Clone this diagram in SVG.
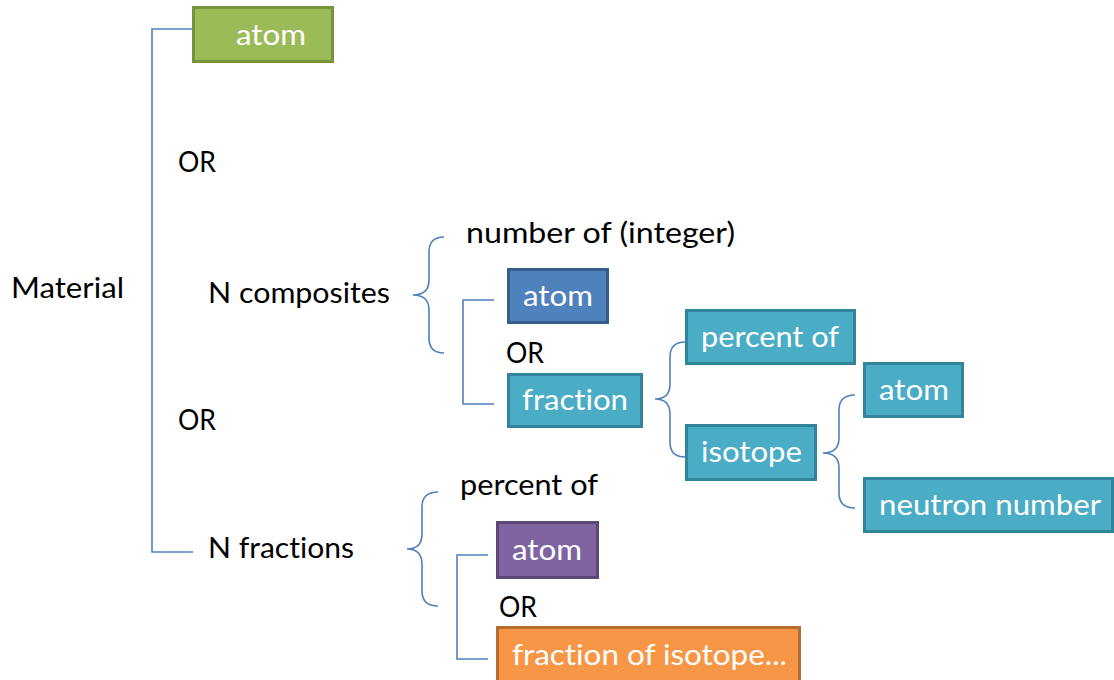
<svg xmlns="http://www.w3.org/2000/svg" width="1114" height="680" viewBox="0 0 1114 680">
<style>
text{font-family:Lato,"Open Sans","Liberation Sans",sans-serif;font-size:28px;font-variant-ligatures:none;font-feature-settings:"liga" 0,"dlig" 0}
.lbl{fill:#000}
.w{fill:#fff}
.c{fill:none;stroke:#4F81BD;stroke-width:1.6}
.box{stroke-width:3}
.green{fill:#9BBB59;stroke:#77933C}
.blue{fill:#4F81BD;stroke:#385D8A}
.cyan{fill:#4BACC6;stroke:#31849B}
.purple{fill:#8064A2;stroke:#5C4776}
.orange{fill:#F79646;stroke:#B66D31}
</style>
<rect width="1114" height="680" fill="#fff"/>
<g id="connectors">
<path class="c" d="M193,29 H152 V552 H193"/>
<path class="c" d="M444,237 Q429,237 429,252 L429,280 Q429,295 413,295 Q429,295 429,310 L429,338 Q429,353 444,353"/>
<path class="c" d="M494,300 H463 V404 H494"/>
<path class="c" d="M685,342 Q670,342 670,357 L670,384 Q670,399 655,399 Q670,399 670,414 L670,442 Q670,457 685,457"/>
<path class="c" d="M855,395 Q839,395 839,410 L839,438 Q839,453 823,453 Q839,453 839,468 L839,493 Q839,508 855,508"/>
<path class="c" d="M438,492 Q422,492 422,507 L422,534 Q422,549 407,549 Q422,549 422,564 L422,591 Q422,606 438,606"/>
<path class="c" d="M488,555 H457 V659 H488"/>
</g>
<g id="material"><text class="lbl" x="11" y="298" textLength="113" lengthAdjust="spacingAndGlyphs">Material</text></g>
<g id="or1"><text class="lbl" x="178" y="172" textLength="38" lengthAdjust="spacingAndGlyphs">OR</text></g>
<g id="or2"><text class="lbl" x="178" y="430" textLength="38" lengthAdjust="spacingAndGlyphs">OR</text></g>
<g id="ncomposites"><text class="lbl" x="208" y="303" textLength="182" lengthAdjust="spacingAndGlyphs">N composites</text></g>
<g id="nfractions"><text class="lbl" x="208" y="558" textLength="146" lengthAdjust="spacingAndGlyphs">N fractions</text></g>
<g id="numberof"><text class="lbl" x="466" y="243" textLength="269" lengthAdjust="spacingAndGlyphs">number of (integer)</text></g>
<g id="or3"><text class="lbl" x="506" y="363" textLength="38" lengthAdjust="spacingAndGlyphs">OR</text></g>
<g id="percentof2"><text class="lbl" x="460" y="495" textLength="138" lengthAdjust="spacingAndGlyphs">percent of</text></g>
<g id="or4"><text class="lbl" x="499" y="617" textLength="38" lengthAdjust="spacingAndGlyphs">OR</text></g>

<g id="atom-green"><rect class="box green" x="193.5" y="7.5" width="139" height="54"/><text class="w" x="236" y="45" textLength="70" lengthAdjust="spacingAndGlyphs">atom</text></g>
<g id="atom-blue"><rect class="box blue" x="508.5" y="269.5" width="99" height="53"/><text class="w" x="523" y="306" textLength="70" lengthAdjust="spacingAndGlyphs">atom</text></g>
<g id="fraction"><rect class="box cyan" x="508.5" y="374.5" width="133" height="52"/><text class="w" x="522" y="410" textLength="106" lengthAdjust="spacingAndGlyphs">fraction</text></g>
<g id="percentof"><rect class="box cyan" x="686.5" y="310.5" width="168" height="53"/><text class="w" x="701" y="347" textLength="138" lengthAdjust="spacingAndGlyphs">percent of</text></g>
<g id="isotope"><rect class="box cyan" x="686.5" y="425.5" width="129" height="54"/><text class="w" x="701" y="462" textLength="101" lengthAdjust="spacingAndGlyphs">isotope</text></g>
<g id="atom-cyan"><rect class="box cyan" x="864.5" y="363.5" width="98" height="53"/><text class="w" x="879" y="400" textLength="70" lengthAdjust="spacingAndGlyphs">atom</text></g>
<g id="neutron"><rect class="box cyan" x="864.5" y="478.5" width="248" height="53"/><text class="w" x="879" y="515" textLength="222" lengthAdjust="spacingAndGlyphs">neutron number</text></g>
<g id="atom-purple"><rect class="box purple" x="497.5" y="522.5" width="100" height="55"/><text class="w" x="512" y="560" textLength="70" lengthAdjust="spacingAndGlyphs">atom</text></g>
<g id="fraction-isotope"><rect class="box orange" x="497.5" y="627.5" width="302" height="60"/><text class="w" x="512" y="665" textLength="275" lengthAdjust="spacingAndGlyphs">fraction of isotope...</text></g>
</svg>
